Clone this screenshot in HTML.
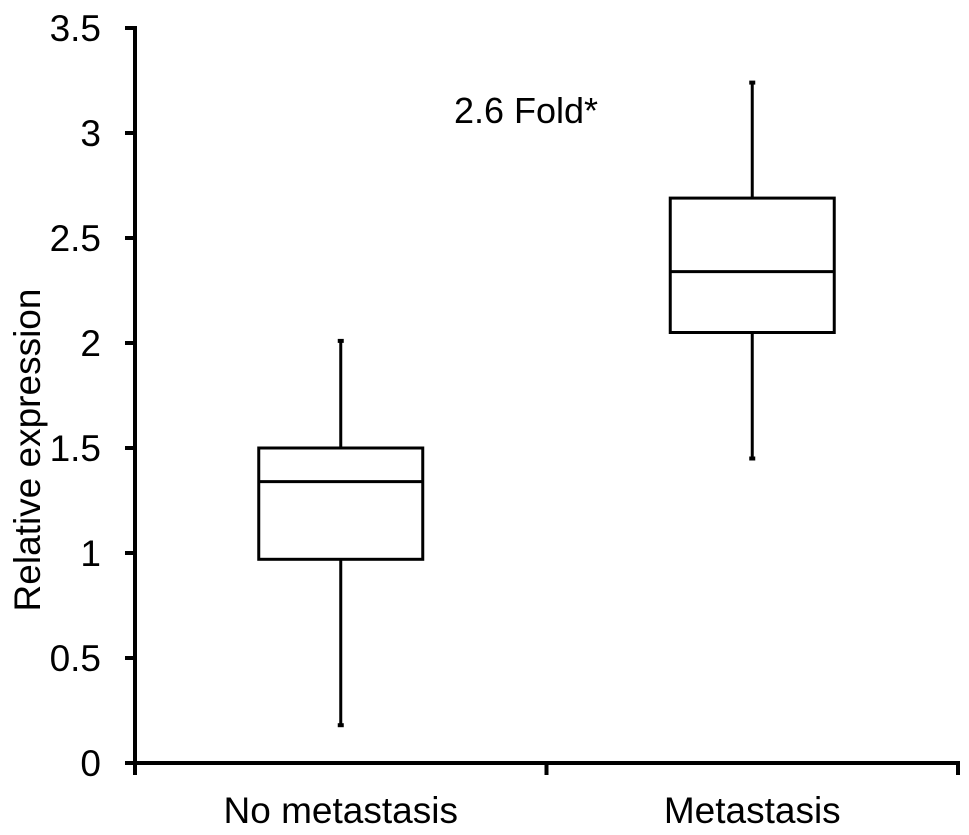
<!DOCTYPE html>
<html><head><meta charset="utf-8"><style>
html,body{margin:0;padding:0;background:#fff}
svg{display:block;font-family:"Liberation Sans",Arial,sans-serif}
</style></head><body>
<svg id="chart" width="969" height="835"></svg>
<script>
const categories = ["No metastasis", "Metastasis"];
const whiskerMin = [0.18, 1.45];
const q1Values = [0.97, 2.05];
const medianValues = [1.34, 2.34];
const q3Values = [1.5, 2.69];
const whiskerMax = [2.01, 3.24];
const yTicks = [0, 0.5, 1, 1.5, 2, 2.5, 3, 3.5];
const yTickLabels = ["0", "0.5", "1", "1.5", "2", "2.5", "3", "3.5"];
const annotationText = "2.6 Fold*";

const NS = "http://www.w3.org/2000/svg";
const svg = document.getElementById("chart");
const x0 = 135, x1 = 958, yBase = 763, yTop = 28, yMax = 3.5;
const y = v => yBase - (v / yMax) * (yBase - yTop);
const band = (x1 - x0) / categories.length;
const xc = i => x0 + band * (i + 0.5);
function el(tag, attrs, parent) {
  const e = document.createElementNS(NS, tag);
  for (const k in attrs) e.setAttribute(k, attrs[k]);
  (parent || svg).appendChild(e);
  return e;
}
const axes = el("g", {});


const ya = el("line", {x1: x0, y1: yTop - 2, x2: x0, y2: yBase + 2, stroke: "#000", "stroke-width": 4}, axes);


const xa = el("line", {x1: x0 - 10, y1: yBase, x2: x1 + 2, y2: yBase, stroke: "#000", "stroke-width": 4}, axes);


yTicks.forEach((t, i) => {
  const tk = el("line", {x1: x0 - 10, y1: y(t), x2: x0, y2: y(t), stroke: "#000", "stroke-width": 4}, axes);
  
  
  const tx = el("text", {x: 101, y: y(t) + 13, "text-anchor": "end", "font-size": 37}, axes);
  
  
  tx.textContent = yTickLabels[i];
});
for (let i = 0; i <= categories.length; i++) {
  const xx = x0 + band * i;
  const tk = el("line", {x1: xx, y1: yBase, x2: xx, y2: yBase + 12, stroke: "#000", "stroke-width": 4}, axes);
  
  
}
categories.forEach((c, i) => {
  const tx = el("text", {x: xc(i), y: 823, "text-anchor": "middle", "font-size": 37}, axes);
  
  
  tx.textContent = c;
});
const yt = el("text", {x: 0, y: 0, "text-anchor": "middle", "font-size": 37, transform: "translate(40,450) rotate(-90)"});


yt.textContent = "Relative expression";
const an = el("text", {x: 526, y: 123, "text-anchor": "middle", "font-size": 36});


an.textContent = annotationText;

const bw = 164;
categories.forEach((c, i) => {
  const g = el("g", {stroke: "#000", "stroke-width": 3, fill: "none"});
  
  
  const cx = xc(i);
  const wl = el("line", {x1: cx, y1: y(whiskerMax[i]), x2: cx, y2: y(q3Values[i])}, g);
  
  
  const wl2 = el("line", {x1: cx, y1: y(q1Values[i]), x2: cx, y2: y(whiskerMin[i])}, g);
  
  
  [whiskerMax[i], whiskerMin[i]].forEach(v => {
    const cap = el("line", {x1: cx - 3, y1: y(v), x2: cx + 3, y2: y(v), "stroke-width": 4}, g);
    
    
  });
  const r = el("rect", {x: cx - bw / 2, y: y(q3Values[i]), width: bw, height: y(q1Values[i]) - y(q3Values[i]), fill: "#fff"}, g);
  
  
  const m = el("line", {x1: cx - bw / 2, y1: y(medianValues[i]), x2: cx + bw / 2, y2: y(medianValues[i])}, g);
  
  
});
</script>
</body></html>
